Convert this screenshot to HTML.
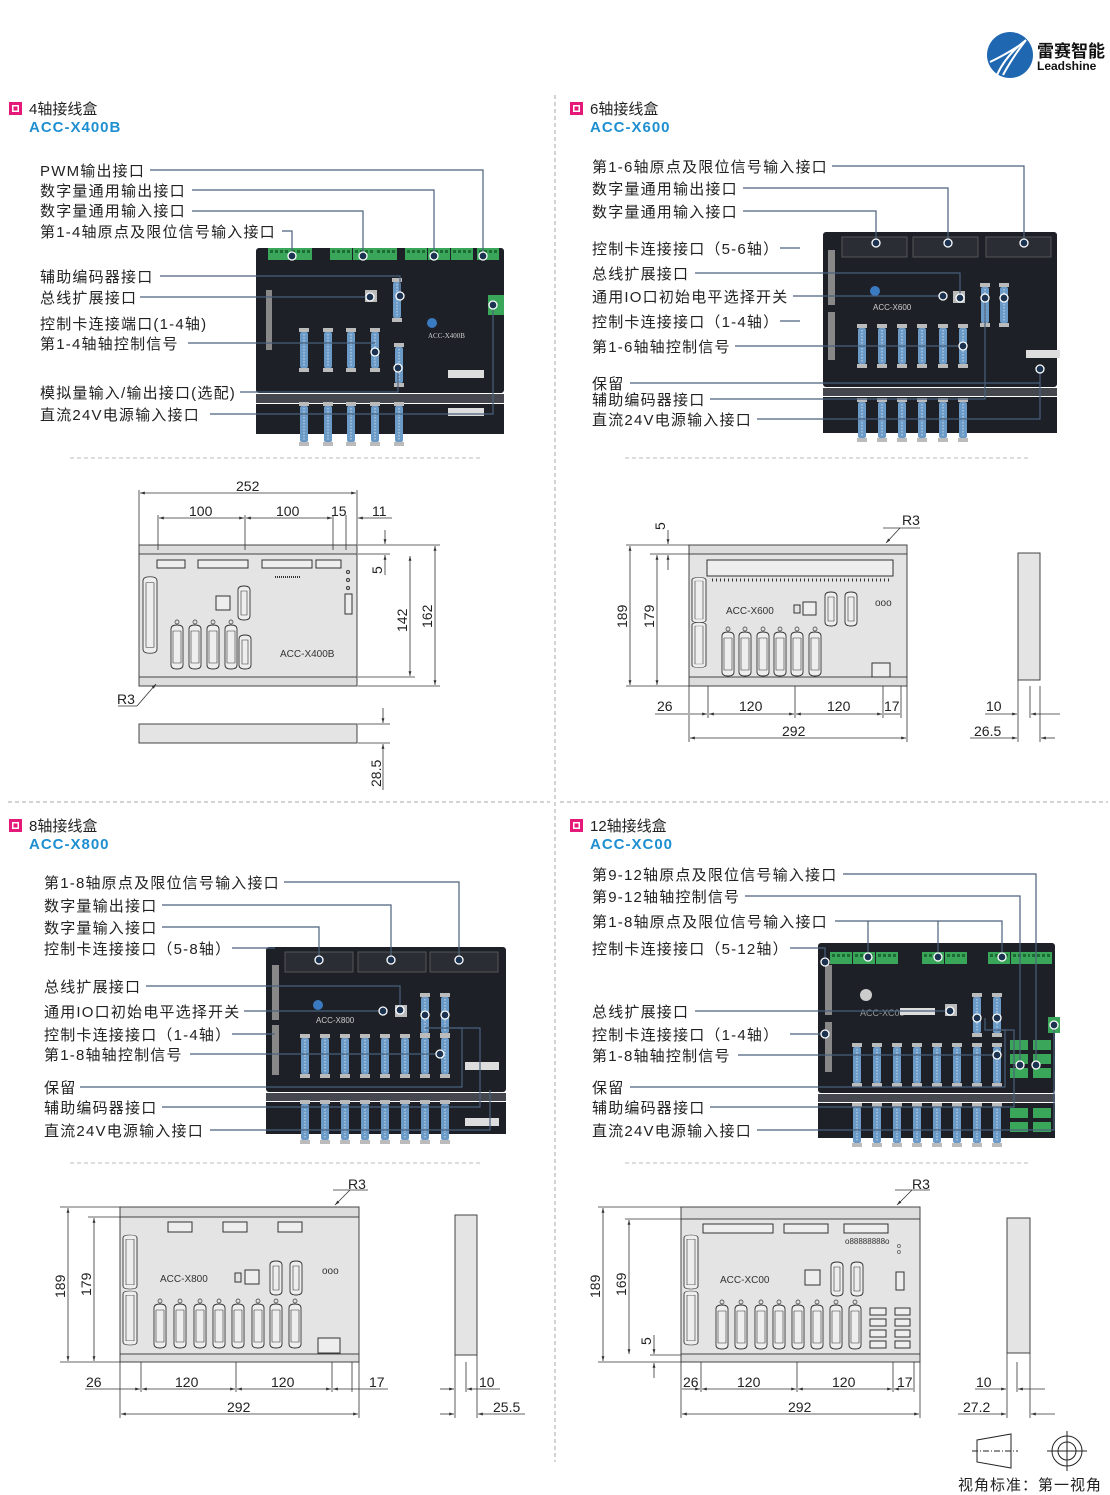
<!DOCTYPE html>
<html><head><meta charset="utf-8"><style>
html,body{margin:0;padding:0;background:#fff}
svg{display:block}
.t{font-family:"Liberation Sans","Noto Sans CJK SC",sans-serif;font-size:15px;fill:#222;letter-spacing:1.2px}
.h{font-family:"Liberation Sans","Noto Sans CJK SC",sans-serif;font-size:15px;fill:#222}
.m{font-family:"Liberation Sans",sans-serif;font-size:15px;font-weight:bold;fill:#1e8fd0;letter-spacing:1px}
.d{font-family:"Liberation Sans",sans-serif;font-size:14px;fill:#222}
.s{font-family:"Liberation Sans",sans-serif;font-size:10px;fill:#333}
.ld{stroke:#4a607c;stroke-width:1.2;fill:none}
.dl{stroke:#333;stroke-width:0.8;fill:none}
.pl{fill:#e4e4e4;stroke:#444;stroke-width:1}
</style></head><body>
<svg width="1110" height="1495" viewBox="0 0 1110 1495" xmlns="http://www.w3.org/2000/svg">
<defs>
<marker id="a" viewBox="0 0 10 10" refX="10" refY="5" markerWidth="8" markerHeight="6" orient="auto-start-reverse"><path d="M0,2 L10,5 L0,8 z" fill="#333"/></marker>
<g id="db"><path d="M-6,-18 Q-6,-22 0,-22 Q6,-22 6,-18 L6,18 Q6,22 0,22 Q-6,22 -6,18 Z" fill="#eee" stroke="#333" stroke-width="0.9"/><path d="M-4,-16 L4,-16 L4,16 L-4,16Z" fill="none" stroke="#333" stroke-width="0.6"/><circle cx="0" cy="-25" r="2" fill="none" stroke="#333" stroke-width="0.7"/></g>
<g id="dbs"><path d="M-6,-13 Q-6,-17 0,-17 Q6,-17 6,-13 L6,13 Q6,17 0,17 Q-6,17 -6,13 Z" fill="#eee" stroke="#333" stroke-width="0.9"/><path d="M-3,-12 L3,-12 L3,12 L-3,12Z" fill="none" stroke="#333" stroke-width="0.6"/></g>
<g id="dbl"><path d="M-7,-40 Q-7,-45 0,-45 Q7,-45 7,-40 L7,40 Q7,45 0,45 Q-7,45 -7,40 Z" fill="#eee" stroke="#333" stroke-width="0.9"/><path d="M-4,-38 L4,-38 L4,38 L-4,38Z" fill="none" stroke="#333" stroke-width="0.6"/></g>
<g id="pd"><rect x="-5" y="-22" width="10" height="4" fill="#bbb"/><rect x="-4" y="-18" width="8" height="36" rx="2" fill="#6c9ac6"/><rect x="-5" y="18" width="10" height="4" fill="#bbb"/><line x1="0" y1="-16" x2="0" y2="16" stroke="#a8c8e6" stroke-width="1.5" stroke-dasharray="1.5 1.5"/></g>
<g id="gc"><rect x="0" y="0" width="22" height="12" fill="#3aa65a"/><rect x="2" y="2" width="3" height="3" fill="#1d6a35"/><rect x="7" y="2" width="3" height="3" fill="#1d6a35"/><rect x="12" y="2" width="3" height="3" fill="#1d6a35"/><rect x="17" y="2" width="3" height="3" fill="#1d6a35"/></g>
<g id="dot"><circle r="4" fill="#1b3350" stroke="#fff" stroke-width="1.3"/></g>
</defs>

<circle cx="1010" cy="55" r="23" fill="#1f67b1"/>
<path d="M997,75 Q1006,55 1026,40 M1003,75 Q1012,58 1026,40 M990,62 Q1005,55 1020,45" stroke="#fff" stroke-width="2" fill="none"/>
<text x="1037" y="57" style="font-family:'Noto Sans CJK SC',sans-serif;font-size:17px;font-weight:bold;fill:#111">雷赛智能</text>
<text x="1037" y="70" style="font-family:'Liberation Sans',sans-serif;font-size:12px;font-weight:bold;fill:#111">Leadshine</text>

<line x1="555" y1="95" x2="555" y2="1462" stroke="#aaa" stroke-dasharray="4 3"/>
<line x1="8" y1="802" x2="550" y2="802" stroke="#aaa" stroke-dasharray="4 3"/>
<line x1="560" y1="802" x2="1108" y2="802" stroke="#aaa" stroke-dasharray="4 3"/>
<line x1="70" y1="458" x2="480" y2="458" stroke="#bbb" stroke-dasharray="4 3"/>
<line x1="625" y1="458" x2="1030" y2="458" stroke="#bbb" stroke-dasharray="4 3"/>
<line x1="70" y1="1163" x2="480" y2="1163" stroke="#bbb" stroke-dasharray="4 3"/>
<line x1="625" y1="1163" x2="1030" y2="1163" stroke="#bbb" stroke-dasharray="4 3"/>

<g><rect x="9" y="102" width="13" height="13" fill="#e4197a"/><rect x="12" y="105" width="7" height="7" fill="#fff"/><rect x="13.5" y="106.5" width="4" height="4" fill="#e4197a"/></g>
<text x="29" y="114" class="h">4轴接线盒</text><text x="29" y="132" class="m">ACC-X400B</text>
<g><rect x="570" y="102" width="13" height="13" fill="#e4197a"/><rect x="573" y="105" width="7" height="7" fill="#fff"/><rect x="574.5" y="106.5" width="4" height="4" fill="#e4197a"/></g>
<text x="590" y="114" class="h">6轴接线盒</text><text x="590" y="132" class="m">ACC-X600</text>
<g><rect x="9" y="819" width="13" height="13" fill="#e4197a"/><rect x="12" y="822" width="7" height="7" fill="#fff"/><rect x="13.5" y="823.5" width="4" height="4" fill="#e4197a"/></g>
<text x="29" y="831" class="h">8轴接线盒</text><text x="29" y="849" class="m">ACC-X800</text>
<g><rect x="570" y="819" width="13" height="13" fill="#e4197a"/><rect x="573" y="822" width="7" height="7" fill="#fff"/><rect x="574.5" y="823.5" width="4" height="4" fill="#e4197a"/></g>
<text x="590" y="831" class="h">12轴接线盒</text><text x="590" y="849" class="m">ACC-XC00</text>

<!-- Q1 photo -->
<g>
<rect x="256" y="248" width="248" height="145" rx="3" fill="#1d2026"/>
<rect x="256" y="394" width="248" height="9" fill="#44484e"/>
<rect x="256" y="404" width="248" height="30" fill="#1d2026"/>
<use href="#gc" x="268" y="248"/><use href="#gc" x="290" y="248"/>
<use href="#gc" x="330" y="248"/><use href="#gc" x="353" y="248"/><use href="#gc" x="375" y="248"/>
<use href="#gc" x="405" y="248"/><use href="#gc" x="428" y="248"/><use href="#gc" x="451" y="248"/><use href="#gc" x="477" y="248"/>
<rect x="488" y="295" width="16" height="20" fill="#3aa65a"/>
<rect x="266" y="290" width="6" height="60" fill="#888"/>
<rect x="365" y="290" width="12" height="12" fill="#bbb"/>
<use href="#pd" x="304" y="350"/><use href="#pd" x="328" y="350"/><use href="#pd" x="351" y="350"/><use href="#pd" x="375" y="350"/>
<use href="#pd" x="397" y="300"/><use href="#pd" x="399" y="365"/>
<use href="#pd" x="304" y="424"/><use href="#pd" x="328" y="424"/><use href="#pd" x="351" y="424"/><use href="#pd" x="375" y="424"/><use href="#pd" x="399" y="424"/>
<rect x="448" y="370" width="36" height="8" fill="#ddd"/><rect x="448" y="408" width="36" height="8" fill="#ddd"/>
<text x="428" y="338" style="font-family:'Liberation Serif',serif;font-size:7px;fill:#ccc">ACC-X400B</text>
<circle cx="432" cy="323" r="5" fill="#3a7ac0"/>
</g>
<g class="t">
<text x="40" y="176">PWM输出接口</text>
<text x="40" y="196">数字量通用输出接口</text>
<text x="40" y="216">数字量通用输入接口</text>
<text x="40" y="237">第1-4轴原点及限位信号输入接口</text>
<text x="40" y="282">辅助编码器接口</text>
<text x="40" y="303">总线扩展接口</text>
<text x="40" y="329">控制卡连接端口(1-4轴)</text>
<text x="40" y="349">第1-4轴轴控制信号</text>
<text x="40" y="398">模拟量输入/输出接口(选配)</text>
<text x="40" y="420">直流24V电源输入接口</text>
</g>
<g class="ld">
<polyline points="150,170 483,170 483,256"/>
<polyline points="192,190 434,190 434,256"/>
<polyline points="192,211 363,211 363,256"/>
<polyline points="282,231 292,231 292,256"/>
<polyline points="160,276 400,276 400,296"/>
<polyline points="140,297 370,297"/>
<polyline points="188,343 375,343"/>
<polyline points="240,392 398,392 398,372"/>
<polyline points="210,414 493,414 493,306"/>
</g>
<use href="#dot" x="483" y="256"/><use href="#dot" x="434" y="256"/><use href="#dot" x="363" y="256"/><use href="#dot" x="292" y="256"/>
<use href="#dot" x="400" y="296"/><use href="#dot" x="370" y="297"/><use href="#dot" x="375" y="352"/><use href="#dot" x="398" y="368"/><use href="#dot" x="493" y="305"/>

<!-- Q2 photo -->
<g>
<rect x="823" y="232" width="234" height="155" rx="3" fill="#1d2026"/>
<rect x="823" y="388" width="234" height="8" fill="#44484e"/>
<rect x="823" y="397" width="234" height="36" fill="#1d2026"/>
<rect x="842" y="237" width="65" height="20" fill="#2a2d33" stroke="#555"/><rect x="913" y="237" width="65" height="20" fill="#2a2d33" stroke="#555"/><rect x="986" y="237" width="65" height="20" fill="#2a2d33" stroke="#555"/>
<rect x="828" y="250" width="7" height="55" fill="#888"/><rect x="828" y="312" width="7" height="48" fill="#888"/>
<rect x="953" y="291" width="12" height="12" fill="#bbb"/>
<use href="#pd" x="862" y="346"/><use href="#pd" x="882" y="346"/><use href="#pd" x="902" y="346"/><use href="#pd" x="922" y="346"/><use href="#pd" x="943" y="346"/><use href="#pd" x="963" y="346"/>
<use href="#pd" x="985" y="305"/><use href="#pd" x="1004" y="305"/>
<use href="#pd" x="862" y="420"/><use href="#pd" x="882" y="420"/><use href="#pd" x="902" y="420"/><use href="#pd" x="922" y="420"/><use href="#pd" x="943" y="420"/><use href="#pd" x="963" y="420"/>
<rect x="1026" y="350" width="34" height="8" fill="#ddd"/>
<text x="873" y="310" style="font-family:'Liberation Sans',sans-serif;font-size:8px;fill:#ccc">ACC-X600</text>
<circle cx="875" cy="291" r="5" fill="#3a7ac0"/>
</g>
<g class="t">
<text x="592" y="172">第1-6轴原点及限位信号输入接口</text>
<text x="592" y="194">数字量通用输出接口</text>
<text x="592" y="217">数字量通用输入接口</text>
<text x="592" y="254">控制卡连接接口（5-6轴）</text>
<text x="592" y="279">总线扩展接口</text>
<text x="592" y="302">通用IO口初始电平选择开关</text>
<text x="592" y="327">控制卡连接接口（1-4轴）</text>
<text x="592" y="352">第1-6轴轴控制信号</text>
<text x="592" y="389">保留</text>
<text x="592" y="405">辅助编码器接口</text>
<text x="592" y="425">直流24V电源输入接口</text>
</g>
<g class="ld">
<polyline points="832,166 1024,166 1024,243"/>
<polyline points="743,188 948,188 948,243"/>
<polyline points="743,211 876,211 876,243"/>
<polyline points="780,248 800,248"/>
<polyline points="695,273 960,273 960,298"/>
<polyline points="793,296 943,296"/>
<polyline points="780,321 800,321"/>
<polyline points="735,346 963,346"/>
<polyline points="630,383 1040,383 1040,370"/>
<polyline points="710,399 985,399 985,298"/>
<polyline points="757,419 1040,419 1040,383"/>
</g>
<use href="#dot" x="1024" y="243"/><use href="#dot" x="948" y="243"/><use href="#dot" x="876" y="243"/><use href="#dot" x="960" y="298"/><use href="#dot" x="943" y="296"/><use href="#dot" x="963" y="346"/><use href="#dot" x="985" y="298"/><use href="#dot" x="1004" y="298"/><use href="#dot" x="1040" y="369"/>

<!-- Q3 photo -->
<g>
<rect x="266" y="947" width="240" height="145" rx="3" fill="#1d2026"/>
<rect x="266" y="1093" width="240" height="8" fill="#44484e"/>
<rect x="266" y="1102" width="240" height="32" fill="#1d2026"/>
<rect x="285" y="952" width="68" height="20" fill="#2a2d33" stroke="#555"/><rect x="358" y="952" width="68" height="20" fill="#2a2d33" stroke="#555"/><rect x="430" y="952" width="68" height="20" fill="#2a2d33" stroke="#555"/>
<rect x="272" y="965" width="7" height="55" fill="#888"/><rect x="272" y="1025" width="7" height="50" fill="#888"/>
<rect x="395" y="1005" width="12" height="12" fill="#bbb"/>
<use href="#pd" x="305" y="1056"/><use href="#pd" x="325" y="1056"/><use href="#pd" x="345" y="1056"/><use href="#pd" x="365" y="1056"/><use href="#pd" x="385" y="1056"/><use href="#pd" x="405" y="1056"/><use href="#pd" x="425" y="1056"/><use href="#pd" x="445" y="1056"/>
<use href="#pd" x="425" y="1015"/><use href="#pd" x="445" y="1015"/>
<use href="#pd" x="305" y="1122"/><use href="#pd" x="325" y="1122"/><use href="#pd" x="345" y="1122"/><use href="#pd" x="365" y="1122"/><use href="#pd" x="385" y="1122"/><use href="#pd" x="405" y="1122"/><use href="#pd" x="425" y="1122"/><use href="#pd" x="445" y="1122"/>
<rect x="465" y="1062" width="34" height="8" fill="#ddd"/><rect x="465" y="1118" width="34" height="8" fill="#ddd"/>
<text x="316" y="1023" style="font-family:'Liberation Sans',sans-serif;font-size:8px;fill:#ccc">ACC-X800</text>
<circle cx="318" cy="1005" r="5" fill="#3a7ac0"/>
</g>
<g class="t">
<text x="44" y="888">第1-8轴原点及限位信号输入接口</text>
<text x="44" y="911">数字量输出接口</text>
<text x="44" y="933">数字量输入接口</text>
<text x="44" y="954">控制卡连接接口（5-8轴）</text>
<text x="44" y="992">总线扩展接口</text>
<text x="44" y="1017">通用IO口初始电平选择开关</text>
<text x="44" y="1040">控制卡连接接口（1-4轴）</text>
<text x="44" y="1060">第1-8轴轴控制信号</text>
<text x="44" y="1093">保留</text>
<text x="44" y="1113">辅助编码器接口</text>
<text x="44" y="1136">直流24V电源输入接口</text>
</g>
<g class="ld">
<polyline points="284,882 459,882 459,960"/>
<polyline points="162,905 391,905 391,960"/>
<polyline points="162,927 319,927 319,960"/>
<polyline points="232,948 275,948"/>
<polyline points="146,986 400,986 400,1010"/>
<polyline points="244,1011 383,1011"/>
<polyline points="232,1034 275,1034"/>
<polyline points="190,1054 440,1054"/>
<polyline points="80,1087 462,1087 462,1028 425,1028"/>
<polyline points="162,1107 480,1107 480,1028 445,1028"/>
<polyline points="210,1130 490,1130 490,1090"/>
</g>
<use href="#dot" x="459" y="960"/><use href="#dot" x="391" y="960"/><use href="#dot" x="319" y="960"/><use href="#dot" x="400" y="1010"/><use href="#dot" x="383" y="1011"/><use href="#dot" x="440" y="1054"/><use href="#dot" x="425" y="1015"/><use href="#dot" x="445" y="1015"/>

<!-- Q4 photo -->
<g>
<rect x="818" y="943" width="237" height="150" rx="3" fill="#1d2026"/>
<rect x="818" y="1094" width="237" height="8" fill="#44484e"/>
<rect x="818" y="1103" width="237" height="35" fill="#1d2026"/>
<use href="#gc" x="830" y="952"/><use href="#gc" x="853" y="952"/><use href="#gc" x="876" y="952"/><use href="#gc" x="922" y="952"/><use href="#gc" x="945" y="952"/><use href="#gc" x="988" y="952"/><use href="#gc" x="1011" y="952"/><use href="#gc" x="1030" y="952"/>
<rect x="825" y="965" width="7" height="50" fill="#888"/><rect x="825" y="1022" width="7" height="50" fill="#888"/>
<rect x="945" y="1004" width="12" height="12" fill="#bbb"/>
<use href="#pd" x="857" y="1065"/><use href="#pd" x="877" y="1065"/><use href="#pd" x="897" y="1065"/><use href="#pd" x="917" y="1065"/><use href="#pd" x="937" y="1065"/><use href="#pd" x="957" y="1065"/><use href="#pd" x="977" y="1065"/><use href="#pd" x="997" y="1065"/>
<use href="#pd" x="977" y="1015"/><use href="#pd" x="997" y="1015"/>
<use href="#pd" x="857" y="1125"/><use href="#pd" x="877" y="1125"/><use href="#pd" x="897" y="1125"/><use href="#pd" x="917" y="1125"/><use href="#pd" x="937" y="1125"/><use href="#pd" x="957" y="1125"/><use href="#pd" x="977" y="1125"/><use href="#pd" x="997" y="1125"/>
<rect x="1010" y="1040" width="18" height="10" fill="#3aa65a"/><rect x="1033" y="1040" width="18" height="10" fill="#3aa65a"/>
<rect x="1010" y="1054" width="18" height="10" fill="#3aa65a"/><rect x="1033" y="1054" width="18" height="10" fill="#3aa65a"/>
<rect x="1010" y="1068" width="18" height="10" fill="#3aa65a"/><rect x="1033" y="1068" width="18" height="10" fill="#3aa65a"/>
<rect x="1010" y="1108" width="18" height="10" fill="#3aa65a"/><rect x="1033" y="1108" width="18" height="10" fill="#3aa65a"/>
<rect x="1010" y="1122" width="18" height="10" fill="#3aa65a"/><rect x="1033" y="1122" width="18" height="10" fill="#3aa65a"/>
<rect x="1048" y="1017" width="12" height="16" fill="#3aa65a"/>
<text x="860" y="1016" style="font-family:'Liberation Sans',sans-serif;font-size:9px;fill:#999">ACC-XC00</text>
<rect x="900" y="1008" width="35" height="7" fill="#ddd"/>
<circle cx="866" cy="995" r="6" fill="#ccc"/>
</g>
<g class="t">
<text x="592" y="880">第9-12轴原点及限位信号输入接口</text>
<text x="592" y="902">第9-12轴轴控制信号</text>
<text x="592" y="927">第1-8轴原点及限位信号输入接口</text>
<text x="592" y="954">控制卡连接接口（5-12轴）</text>
<text x="592" y="1017">总线扩展接口</text>
<text x="592" y="1040">控制卡连接接口（1-4轴）</text>
<text x="592" y="1061">第1-8轴轴控制信号</text>
<text x="592" y="1093">保留</text>
<text x="592" y="1113">辅助编码器接口</text>
<text x="592" y="1136">直流24V电源输入接口</text>
</g>
<g class="ld">
<polyline points="843,874 1036,874 1036,1065"/>
<polyline points="745,896 1020,896 1020,1065"/>
<polyline points="835,921 1002,921 1002,957"/>
<polyline points="938,921 938,957"/>
<polyline points="868,921 868,957"/>
<polyline points="790,948 825,948 825,962"/>
<polyline points="695,1011 950,1011"/>
<polyline points="790,1034 825,1034"/>
<polyline points="738,1055 997,1055"/>
<polyline points="630,1087 1005,1087 1005,1030 997,1030"/>
<polyline points="710,1107 1014,1107 1014,1030 985,1030 985,1018"/>
<polyline points="757,1130 1054,1130 1054,1025"/>
</g>
<use href="#dot" x="868" y="957"/><use href="#dot" x="938" y="957"/><use href="#dot" x="1002" y="957"/><use href="#dot" x="825" y="962"/><use href="#dot" x="825" y="1034"/><use href="#dot" x="950" y="1011"/><use href="#dot" x="997" y="1055"/><use href="#dot" x="1036" y="1065"/><use href="#dot" x="1020" y="1065"/><use href="#dot" x="977" y="1018"/><use href="#dot" x="997" y="1018"/><use href="#dot" x="1054" y="1025"/>

<!-- Q1 drawing -->
<g>
<rect x="139" y="545" width="218" height="141" class="pl"/>
<rect x="139" y="545" width="218" height="9" fill="#ddd" stroke="#444"/>
<rect x="139" y="677" width="218" height="9" fill="#ddd" stroke="#444"/>
<rect x="157" y="560" width="28" height="8" fill="#eee" stroke="#333"/><rect x="198" y="560" width="50" height="8" fill="#eee" stroke="#333"/><rect x="262" y="560" width="50" height="8" fill="#eee" stroke="#333"/><rect x="316" y="560" width="25" height="8" fill="#eee" stroke="#333"/>
<line x1="275" y1="577" x2="300" y2="577" stroke="#333" stroke-width="2" stroke-dasharray="1 1"/>
<use href="#dbl" x="150" y="615" transform="translate(150,615) scale(1,0.85) translate(-150,-615)"/>
<rect x="216" y="596" width="14" height="14" fill="#eee" stroke="#333"/>
<use href="#dbs" x="244" y="603"/><use href="#dbs" x="245" y="652"/>
<use href="#db" x="177" y="647"/><use href="#db" x="195" y="647"/><use href="#db" x="213" y="647"/><use href="#db" x="231" y="647"/>
<rect x="345" y="594" width="7" height="20" fill="#eee" stroke="#333"/>
<circle cx="348" cy="572" r="1.5" fill="none" stroke="#333"/><circle cx="348" cy="580" r="1.5" fill="none" stroke="#333"/><circle cx="348" cy="588" r="1.5" fill="none" stroke="#333"/>
<text x="280" y="657" class="s" style="font-size:10px">ACC-X400B</text>
<rect x="139" y="724" width="218" height="19" fill="#e4e4e4" stroke="#444"/>
</g>
<g class="dl">
<line x1="139" y1="490" x2="139" y2="545"/><line x1="357" y1="490" x2="357" y2="545"/>
<line x1="140" y1="493" x2="356" y2="493" marker-start="url(#a)" marker-end="url(#a)"/>
<line x1="158" y1="515" x2="158" y2="550"/><line x1="245" y1="515" x2="245" y2="550"/><line x1="333" y1="515" x2="333" y2="550"/><line x1="346" y1="515" x2="346" y2="550"/>
<line x1="159" y1="518" x2="244" y2="518" marker-start="url(#a)" marker-end="url(#a)"/>
<line x1="246" y1="518" x2="332" y2="518" marker-start="url(#a)" marker-end="url(#a)"/>
<line x1="358" y1="518" x2="392" y2="518" marker-start="url(#a)"/>
<line x1="358" y1="545" x2="440" y2="545"/><line x1="358" y1="554" x2="390" y2="554"/><line x1="358" y1="686" x2="440" y2="686"/><line x1="358" y1="677" x2="415" y2="677"/>
<line x1="385" y1="530" x2="385" y2="544" marker-end="url(#a)"/><line x1="385" y1="575" x2="385" y2="555" marker-end="url(#a)"/>
<line x1="410" y1="556" x2="410" y2="676" marker-start="url(#a)" marker-end="url(#a)"/>
<line x1="435" y1="546" x2="435" y2="685" marker-start="url(#a)" marker-end="url(#a)"/>
<line x1="358" y1="724" x2="390" y2="724"/><line x1="358" y1="743" x2="390" y2="743"/>
<line x1="383" y1="708" x2="383" y2="723" marker-end="url(#a)"/><line x1="383" y1="790" x2="383" y2="744" marker-end="url(#a)"/>
<line x1="118" y1="706" x2="137" y2="706"/><line x1="137" y1="706" x2="156" y2="684" marker-end="url(#a)"/>
</g>
<g class="d">
<text x="236" y="491">252</text><text x="189" y="516">100</text><text x="276" y="516">100</text><text x="331" y="516">15</text><text x="372" y="516">11</text>
<text x="382" y="574" transform="rotate(-90 382 574)">5</text>
<text x="407" y="632" transform="rotate(-90 407 632)">142</text>
<text x="432" y="628" transform="rotate(-90 432 628)">162</text>
<text x="381" y="787" transform="rotate(-90 381 787)">28.5</text>
<text x="117" y="704">R3</text>
</g>

<!-- Q2 drawing -->
<g>
<rect x="689" y="545" width="218" height="141" class="pl"/>
<rect x="689" y="545" width="218" height="9" fill="#ddd" stroke="#444"/>
<rect x="689" y="677" width="218" height="9" fill="#ddd" stroke="#444"/>
<rect x="707" y="560" width="186" height="16" fill="#eee" stroke="#333"/>
<line x1="712" y1="580" x2="890" y2="580" stroke="#333" stroke-width="3" stroke-dasharray="1 3"/>
<use href="#dbl" x="699" y="600" transform="translate(699,600) scale(1,0.5) translate(-699,-600)"/>
<use href="#dbl" x="699" y="645" transform="translate(699,645) scale(1,0.5) translate(-699,-645)"/>
<text x="726" y="614" class="s">ACC-X600</text>
<rect x="794" y="605" width="6" height="8" fill="none" stroke="#333"/><rect x="803" y="602" width="13" height="13" fill="#eee" stroke="#333"/>
<use href="#dbs" x="831" y="609"/><use href="#dbs" x="851" y="609"/>
<text x="875" y="606" class="s">ooo</text>
<use href="#db" x="728" y="654"/><use href="#db" x="745" y="654"/><use href="#db" x="763" y="654"/><use href="#db" x="780" y="654"/><use href="#db" x="797" y="654"/><use href="#db" x="815" y="654"/>
<rect x="872" y="663" width="18" height="14" fill="#eee" stroke="#333"/>
<rect x="1018" y="553" width="22" height="127" fill="#e4e4e4" stroke="#444"/>
</g>
<g class="dl">
<line x1="626" y1="545" x2="689" y2="545"/><line x1="626" y1="686" x2="689" y2="686"/><line x1="650" y1="554" x2="689" y2="554"/>
<line x1="630" y1="546" x2="630" y2="685" marker-start="url(#a)" marker-end="url(#a)"/>
<line x1="657" y1="555" x2="657" y2="685" marker-start="url(#a)" marker-end="url(#a)"/>
<line x1="668" y1="530" x2="668" y2="544" marker-end="url(#a)"/><line x1="668" y1="570" x2="668" y2="555" marker-end="url(#a)"/>
<line x1="689" y1="686" x2="689" y2="742"/><line x1="907" y1="686" x2="907" y2="742"/><line x1="708" y1="686" x2="708" y2="718"/><line x1="795" y1="686" x2="795" y2="718"/><line x1="883" y1="686" x2="883" y2="718"/><line x1="901" y1="686" x2="901" y2="718"/>
<line x1="655" y1="714" x2="688" y2="714"/><line x1="690" y1="714" x2="707" y2="714" marker-end="url(#a)"/>
<line x1="709" y1="714" x2="794" y2="714" marker-start="url(#a)" marker-end="url(#a)"/>
<line x1="796" y1="714" x2="882" y2="714" marker-start="url(#a)" marker-end="url(#a)"/>
<line x1="884" y1="714" x2="900" y2="714"/>
<line x1="690" y1="738" x2="906" y2="738" marker-start="url(#a)" marker-end="url(#a)"/>
<line x1="883" y1="528" x2="920" y2="528"/><line x1="900" y1="528" x2="886" y2="543" marker-end="url(#a)"/>
<line x1="1018" y1="680" x2="1018" y2="742"/><line x1="1030" y1="686" x2="1030" y2="718"/><line x1="1040" y1="686" x2="1040" y2="742"/>
<line x1="985" y1="714" x2="1017" y2="714" marker-end="url(#a)"/><line x1="1060" y1="714" x2="1031" y2="714" marker-end="url(#a)"/>
<line x1="970" y1="738" x2="1017" y2="738" marker-end="url(#a)"/><line x1="1055" y1="738" x2="1041" y2="738" marker-end="url(#a)"/>
</g>
<g class="d">
<text x="665" y="530" transform="rotate(-90 665 530)">5</text>
<text x="627" y="628" transform="rotate(-90 627 628)">189</text>
<text x="654" y="628" transform="rotate(-90 654 628)">179</text>
<text x="657" y="711">26</text><text x="739" y="711">120</text><text x="827" y="711">120</text><text x="884" y="711">17</text>
<text x="782" y="736">292</text><text x="902" y="525">R3</text>
<text x="986" y="711">10</text><text x="974" y="736">26.5</text>
</g>

<!-- Q3 drawing -->
<g>
<rect x="120" y="1207" width="239" height="155" class="pl"/>
<rect x="120" y="1207" width="239" height="10" fill="#ddd" stroke="#444"/>
<rect x="120" y="1354" width="239" height="8" fill="#ddd" stroke="#444"/>
<rect x="168" y="1222" width="24" height="10" fill="#eee" stroke="#333"/><rect x="223" y="1222" width="24" height="10" fill="#eee" stroke="#333"/><rect x="278" y="1222" width="24" height="10" fill="#eee" stroke="#333"/>
<use href="#dbl" x="130" y="1262" transform="translate(130,1262) scale(1,0.6) translate(-130,-1262)"/>
<use href="#dbl" x="130" y="1318" transform="translate(130,1318) scale(1,0.6) translate(-130,-1318)"/>
<text x="160" y="1282" class="s">ACC-X800</text>
<rect x="235" y="1273" width="6" height="9" fill="none" stroke="#333"/><rect x="245" y="1270" width="14" height="14" fill="#eee" stroke="#333"/>
<use href="#dbs" x="276" y="1278"/><use href="#dbs" x="296" y="1278"/>
<text x="322" y="1274" class="s">ooo</text>
<use href="#db" x="160" y="1326"/><use href="#db" x="180" y="1326"/><use href="#db" x="200" y="1326"/><use href="#db" x="219" y="1326"/><use href="#db" x="238" y="1326"/><use href="#db" x="258" y="1326"/><use href="#db" x="276" y="1326"/><use href="#db" x="295" y="1326"/>
<rect x="318" y="1338" width="22" height="15" fill="#eee" stroke="#333"/>
<rect x="455" y="1215" width="22" height="140" fill="#e4e4e4" stroke="#444"/>
</g>
<g class="dl">
<line x1="60" y1="1207" x2="120" y2="1207"/><line x1="60" y1="1362" x2="120" y2="1362"/><line x1="88" y1="1217" x2="120" y2="1217"/>
<line x1="68" y1="1208" x2="68" y2="1361" marker-start="url(#a)" marker-end="url(#a)"/>
<line x1="94" y1="1218" x2="94" y2="1361" marker-start="url(#a)" marker-end="url(#a)"/>
<line x1="120" y1="1362" x2="120" y2="1418"/><line x1="359" y1="1362" x2="359" y2="1418"/><line x1="141" y1="1362" x2="141" y2="1392"/><line x1="236" y1="1362" x2="236" y2="1392"/><line x1="332" y1="1362" x2="332" y2="1392"/><line x1="352" y1="1362" x2="352" y2="1392"/>
<line x1="85" y1="1389" x2="140" y2="1389" marker-end="url(#a)"/>
<line x1="142" y1="1389" x2="235" y2="1389" marker-start="url(#a)" marker-end="url(#a)"/>
<line x1="237" y1="1389" x2="331" y2="1389" marker-start="url(#a)" marker-end="url(#a)"/>
<line x1="333" y1="1389" x2="388" y2="1389" marker-start="url(#a)"/>
<line x1="121" y1="1414" x2="358" y2="1414" marker-start="url(#a)" marker-end="url(#a)"/>
<line x1="333" y1="1190" x2="368" y2="1190"/><line x1="350" y1="1190" x2="335" y2="1205" marker-end="url(#a)"/>
<line x1="455" y1="1355" x2="455" y2="1418"/><line x1="466" y1="1362" x2="466" y2="1392"/><line x1="477" y1="1355" x2="477" y2="1418"/>
<line x1="440" y1="1389" x2="454" y2="1389" marker-end="url(#a)"/><line x1="500" y1="1389" x2="467" y2="1389" marker-end="url(#a)"/>
<line x1="440" y1="1414" x2="454" y2="1414" marker-end="url(#a)"/><line x1="525" y1="1414" x2="478" y2="1414" marker-end="url(#a)"/>
</g>
<g class="d">
<text x="65" y="1298" transform="rotate(-90 65 1298)">189</text>
<text x="91" y="1296" transform="rotate(-90 91 1296)">179</text>
<text x="86" y="1387">26</text><text x="175" y="1387">120</text><text x="271" y="1387">120</text><text x="369" y="1387">17</text>
<text x="227" y="1412">292</text><text x="348" y="1189">R3</text>
<text x="479" y="1387">10</text><text x="493" y="1412">25.5</text>
</g>

<!-- Q4 drawing -->
<g>
<rect x="681" y="1207" width="239" height="155" class="pl"/>
<rect x="681" y="1207" width="239" height="12" fill="#ddd" stroke="#444"/>
<rect x="681" y="1354" width="239" height="8" fill="#ddd" stroke="#444"/>
<rect x="703" y="1224" width="70" height="9" fill="#eee" stroke="#333"/><rect x="784" y="1224" width="44" height="9" fill="#eee" stroke="#333"/><rect x="844" y="1224" width="44" height="9" fill="#eee" stroke="#333"/>
<text x="845" y="1244" class="s" style="font-size:8px">o88888888o</text>
<text x="897" y="1248" class="s" style="font-size:7px">o</text><text x="897" y="1254" class="s" style="font-size:7px">o</text>
<use href="#dbl" x="691" y="1262" transform="translate(691,1262) scale(1,0.6) translate(-691,-1262)"/>
<use href="#dbl" x="691" y="1318" transform="translate(691,1318) scale(1,0.6) translate(-691,-1318)"/>
<text x="720" y="1283" class="s">ACC-XC00</text>
<rect x="805" y="1270" width="15" height="15" fill="#eee" stroke="#333"/>
<use href="#dbs" x="837" y="1279"/><use href="#dbs" x="857" y="1279"/>
<rect x="896" y="1272" width="8" height="18" fill="#eee" stroke="#333"/>
<use href="#db" x="722" y="1327"/><use href="#db" x="741" y="1327"/><use href="#db" x="761" y="1327"/><use href="#db" x="779" y="1327"/><use href="#db" x="798" y="1327"/><use href="#db" x="817" y="1327"/><use href="#db" x="836" y="1327"/><use href="#db" x="855" y="1327"/>
<g fill="#eee" stroke="#333"><rect x="870" y="1308" width="16" height="7"/><rect x="895" y="1308" width="15" height="7"/><rect x="870" y="1319" width="16" height="7"/><rect x="895" y="1319" width="15" height="7"/><rect x="870" y="1330" width="16" height="7"/><rect x="895" y="1330" width="15" height="7"/><rect x="870" y="1341" width="16" height="7"/><rect x="895" y="1341" width="15" height="7"/></g>
<rect x="1007" y="1218" width="23" height="135" fill="#e4e4e4" stroke="#444"/>
</g>
<g class="dl">
<line x1="598" y1="1207" x2="681" y2="1207"/><line x1="598" y1="1362" x2="681" y2="1362"/><line x1="625" y1="1219" x2="681" y2="1219"/><line x1="650" y1="1355" x2="681" y2="1355"/>
<line x1="603" y1="1208" x2="603" y2="1361" marker-start="url(#a)" marker-end="url(#a)"/>
<line x1="629" y1="1220" x2="629" y2="1354" marker-start="url(#a)" marker-end="url(#a)"/>
<line x1="654" y1="1335" x2="654" y2="1354" marker-end="url(#a)"/><line x1="654" y1="1378" x2="654" y2="1363" marker-end="url(#a)"/>
<line x1="681" y1="1362" x2="681" y2="1418"/><line x1="920" y1="1362" x2="920" y2="1418"/><line x1="701" y1="1362" x2="701" y2="1392"/><line x1="797" y1="1362" x2="797" y2="1392"/><line x1="893" y1="1362" x2="893" y2="1392"/><line x1="914" y1="1362" x2="914" y2="1392"/>
<line x1="682" y1="1389" x2="700" y2="1389" marker-end="url(#a)"/>
<line x1="702" y1="1389" x2="796" y2="1389" marker-start="url(#a)" marker-end="url(#a)"/>
<line x1="798" y1="1389" x2="892" y2="1389" marker-start="url(#a)" marker-end="url(#a)"/>
<line x1="894" y1="1389" x2="913" y2="1389" marker-start="url(#a)"/>
<line x1="682" y1="1414" x2="919" y2="1414" marker-start="url(#a)" marker-end="url(#a)"/>
<line x1="895" y1="1190" x2="930" y2="1190"/><line x1="912" y1="1190" x2="897" y2="1205" marker-end="url(#a)"/>
<line x1="1007" y1="1353" x2="1007" y2="1418"/><line x1="1017" y1="1362" x2="1017" y2="1392"/><line x1="1030" y1="1353" x2="1030" y2="1418"/>
<line x1="975" y1="1389" x2="1006" y2="1389" marker-end="url(#a)"/><line x1="1045" y1="1389" x2="1018" y2="1389" marker-end="url(#a)"/>
<line x1="958" y1="1414" x2="1006" y2="1414" marker-end="url(#a)"/><line x1="1055" y1="1414" x2="1031" y2="1414" marker-end="url(#a)"/>
</g>
<g class="d">
<text x="600" y="1298" transform="rotate(-90 600 1298)">189</text>
<text x="626" y="1296" transform="rotate(-90 626 1296)">169</text>
<text x="651" y="1345" transform="rotate(-90 651 1345)">5</text>
<text x="683" y="1387">26</text><text x="737" y="1387">120</text><text x="832" y="1387">120</text><text x="897" y="1387">17</text>
<text x="788" y="1412">292</text><text x="912" y="1189">R3</text>
<text x="976" y="1387">10</text><text x="963" y="1412">27.2</text>
</g>

<g stroke="#222" stroke-width="1" fill="none">
<path d="M977,1440 L1011,1434 L1011,1468 L977,1462 Z"/>
<line x1="972" y1="1451" x2="1018" y2="1451" stroke-dasharray="6 2 1 2"/>
<circle cx="1067" cy="1451" r="15"/><circle cx="1067" cy="1451" r="9"/>
<line x1="1047" y1="1451" x2="1087" y2="1451"/><line x1="1067" y1="1431" x2="1067" y2="1471"/>
</g>
<text x="958" y="1490" class="h" style="letter-spacing:1px">视角标准：第一视角</text>
</svg>
</body></html>
